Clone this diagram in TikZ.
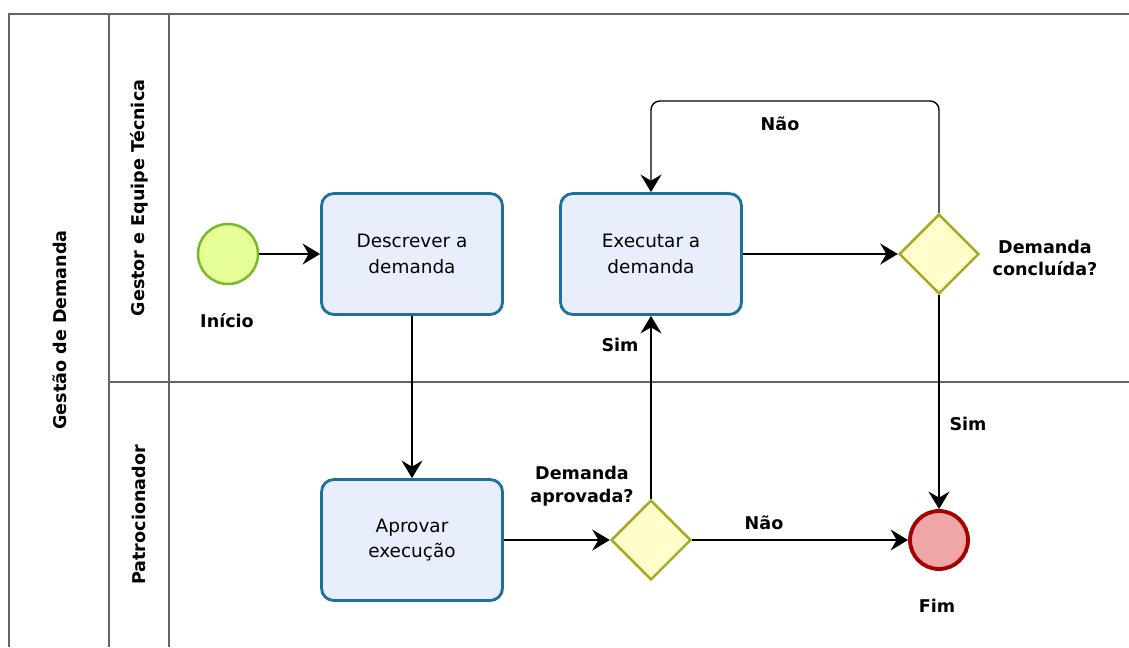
\documentclass[tikz,border=0pt]{standalone}
\usepackage{fontspec}
\setmainfont{DejaVu Sans}
\usepackage{xcolor}
\usepackage{tikz}
\usetikzlibrary{arrows.meta,shapes.geometric}

\definecolor{poolline}{RGB}{100,100,100}
\definecolor{startfill}{RGB}{230,255,150}
\definecolor{startline}{RGB}{120,185,40}
\definecolor{taskfill}{RGB}{233,238,252}
\definecolor{taskline}{RGB}{30,110,160}
\definecolor{gatefill}{RGB}{255,255,204}
\definecolor{gateline}{RGB}{168,168,30}
\definecolor{endfill}{RGB}{238,166,166}
\definecolor{endline}{RGB}{165,0,0}

\begin{document}
\begin{tikzpicture}[x=0.02cm,y=-0.02cm,>={Stealth[length=10pt,width=12pt,inset=3.5pt]},
task/.style={draw=taskline,fill=taskfill,line width=1.6pt,rounded corners=7pt,
  minimum width=3.62cm,minimum height=2.42cm,align=center,
  font=\fontsize{10.5}{14.5}\selectfont},
gate/.style={diamond,draw=gateline,fill=gatefill,line width=1.4pt,
  minimum width=1.6cm,minimum height=1.6cm,inner sep=0pt},
lbl/.style={font=\fontsize{10}{13}\selectfont\bfseries,align=center},
flow/.style={->,line width=0.8pt}]
\useasboundingbox(0,0)rectangle(1129,647);
% pool and lanes
\draw[poolline,line width=1.1pt](1129,14)--(9,14)--(9,647);
\draw[poolline,line width=1.1pt](109,14)--(109,647);
\draw[poolline,line width=1.1pt](169,14)--(169,647);
\draw[poolline,line width=1.1pt](109,382)--(1129,382);
\node[lbl,rotate=90](pool)at(60,330){Gestão de Demanda};
\node[lbl,rotate=90](lane1)at(139,198){Gestor e Equipe Técnica};
\node[lbl,rotate=90](lane2)at(139,515){Patrocionador};
% events, tasks, gateways
\node[circle,draw=startline,fill=startfill,line width=1.4pt,minimum size=1.2cm](start)at(228,254){};
\node[lbl](startlbl)at(227,321){Início};
\node[task](describe)at(412,254){Descrever a\\demanda};
\node[task](execute)at(651,254){Executar a\\demanda};
\node[task](approve)at(412,540){Aprovar\\execução};
\node[gate](approved)at(651,540){};
\node[lbl](approvedlbl)at(582,486){Demanda\\aprovada?};
\node[gate](done)at(939,254){};
\node[lbl](donelbl)at(1045,258){Demanda\\concluída?};
\node[circle,draw=endline,fill=endfill,line width=2.2pt,minimum size=1.16cm](finish)at(939,540){};
\node[lbl](finishlbl)at(937,606){Fim};
% flows
\draw[flow](start)--(describe);
\draw[flow](describe)--(approve);
\draw[flow](approve)--(approved);
\draw[flow](approved)--(execute);
\node[lbl](sim1)at(620,345){Sim};
\draw[flow](approved)--(finish);
\node[lbl](nao1)at(764,523){Não};
\draw[flow](execute)--(done);
\draw[flow](done)--(finish);
\node[lbl](sim2)at(968,424){Sim};
\draw[flow,rounded corners=5pt](done.north)--(done.north|-0,101)-|(execute.north);
\node[lbl](nao2)at(780,124){Não};
\end{tikzpicture}
\end{document}
